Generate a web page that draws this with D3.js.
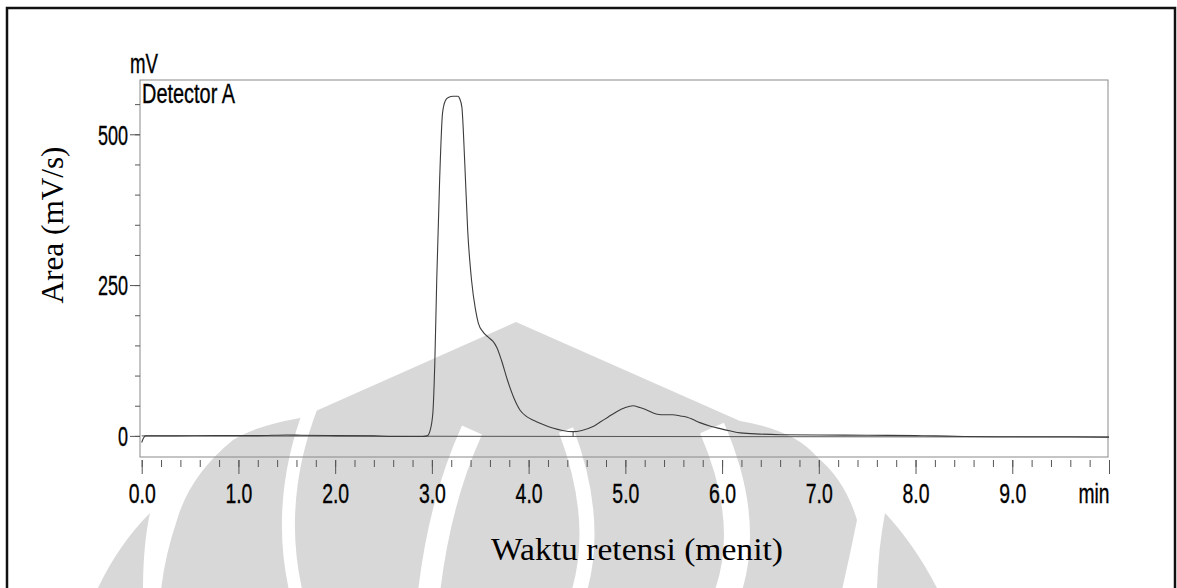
<!DOCTYPE html>
<html>
<head>
<meta charset="utf-8">
<script src="https://cdn.jsdelivr.net/npm/d3@7"></script>
<style>
  body { margin: 0; background: #fff; }
  svg { display: block; }
  .narrow { font-family: "Liberation Sans", Arial, sans-serif; stroke: #000; stroke-width: 0.35px; }
  .serif { font-family: "Liberation Serif", "Times New Roman", serif; }
</style>
</head>
<body>
<div id="container"></div>
<script>
// retention time (min) and detector signal (mV)
const times = [0, 0.02, 0.04, 0.3, 0.8, 1.2, 1.5, 1.65, 2.0, 2.4, 2.6, 2.9, 2.95, 2.98, 3.01, 3.03,
  3.05, 3.08, 3.11, 3.14, 3.17, 3.22, 3.27, 3.29, 3.31, 3.34, 3.37, 3.41, 3.45, 3.48, 3.53,
  3.58, 3.63, 3.67, 3.72, 3.78, 3.85, 3.91, 3.98, 4.05, 4.15, 4.25, 4.35, 4.46, 4.55, 4.66,
  4.74, 4.82, 4.91, 5.0, 5.08, 5.15, 5.22, 5.33, 5.41, 5.49, 5.57, 5.64, 5.7, 5.77, 5.88,
  5.98, 6.09, 6.19, 6.39, 6.6, 7.0, 7.5, 8.0, 8.2, 8.5, 9.0, 9.5, 10.0];
const signal = [-11, -3, 0, 0, 0.5, 0.5, 1.5, 1, 0.5, 0, -1, -1, 0, 8, 38, 120,
  258, 424, 535, 556, 561, 563, 563, 558, 545, 452, 341, 258, 210, 187, 172,
  164, 157, 147, 125, 93, 62, 43, 32, 26, 19, 13, 9, 7, 9, 15,
  23, 31, 40, 47, 50, 47, 43, 36, 35, 35, 33, 31, 27, 22, 16,
  12, 8, 5, 3, 2, 1.5, 1, 0.5, 0, -1, -1.5, -1.5, -2];
// integration baseline (start, end) and peak separator
const baseTimes = [0, 10];
const baseValues = [0, -2];
const dropTimes = [4.46];

const xMajor = [0, 1, 2, 3, 4, 5, 6, 7, 8, 9, 10];
const xLabels = ["0.0", "1.0", "2.0", "3.0", "4.0", "5.0", "6.0", "7.0", "8.0", "9.0", "min"];
const yMajor = [0, 250, 500];
const yLabels = ["0", "250", "500"];

const width = 1177, height = 588;
const plotL = 140, plotR = 1109, plotT = 80, plotB = 457;

const svg = d3.select("#container").append("svg")
  .attr("width", width).attr("height", height);

svg.append("rect").attr("width", width).attr("height", height).attr("fill", "#fff");

// faded logo watermark behind the chart
const wm = svg.append("g");
const wmFill = "#d8d8d8";
wm.append("path").attr("fill", wmFill)
  .attr("d", "M516,322 L300,418 Q255,426 233,440 Q190,475 177,520 Q165,555 161,590 L842,590 Q850,555 857,520 Q845,480 817,457 Q795,430 740,421 Z");
wm.append("path").attr("fill", wmFill)
  .attr("d", "M150,513 Q118,545 97,590 L143,590 Q143,545 150,513 Z");
wm.append("path").attr("fill", wmFill)
  .attr("d", "M885,513 Q878,550 877,590 L938,590 Q915,545 885,513 Z");
[["M312,405 Q275,500 296,592", 13],
 ["M472,430 Q440,500 429,592", 22],
 ["M566,430 Q600,520 579,592", 15],
 ["M712,428 Q752,520 728,592", 26]].forEach(([d, w]) => {
  wm.append("path").attr("d", d).attr("fill", "none")
    .attr("stroke", "#fff").attr("stroke-width", w);
});

// outer page frame
svg.append("rect")
  .attr("x", 7).attr("y", 8).attr("width", 1168).attr("height", 600)
  .attr("fill", "none").attr("stroke", "#111").attr("stroke-width", 2.5);

const x = d3.scaleLinear().domain([0, 10]).range([141.7, 1109]);
const y = d3.scaleLinear().domain([-35, 590]).range([plotB, plotT]);

// plot frame
svg.append("rect")
  .attr("x", plotL).attr("y", plotT).attr("width", plotR - plotL - 1).attr("height", plotB - plotT)
  .attr("fill", "none").attr("stroke", "#8a8a8a").attr("stroke-width", 1);

// x axis: minor ticks every 0.2, major every 1.0
const xMinorAxis = d3.axisBottom(x)
  .tickValues(d3.range(0, 51).map(i => i / 5))
  .tickSize(7).tickFormat("");
const xMajorAxis = d3.axisBottom(x)
  .tickValues(xMajor).tickSize(14)
  .tickFormat((d, i) => xLabels[i]);

svg.append("g").attr("transform", `translate(0,460)`).call(xMinorAxis)
  .call(g => g.select(".domain").remove());
const gx = svg.append("g").attr("transform", `translate(0,460)`).call(xMajorAxis)
  .call(g => g.select(".domain").remove());
gx.selectAll("text")
  .attr("class", "narrow")
  .attr("y", 43).attr("dy", 0)
  .attr("font-size", 27).attr("fill", "#000")
  .attr("textLength", (d, i) => i === xLabels.length - 1 ? 31 : 27)
  .attr("lengthAdjust", "spacingAndGlyphs")
  .attr("text-anchor", (d, i) => i === xLabels.length - 1 ? "end" : "middle");

// y axis: minor ticks every 50
const yMinorAxis = d3.axisLeft(y).tickValues(d3.range(0, 551, 50)).tickSize(5).tickFormat("");
const yMajorAxis = d3.axisLeft(y).tickValues(yMajor).tickSize(10)
  .tickFormat((d, i) => yLabels[i]).tickPadding(2);

svg.append("g").attr("transform", `translate(${plotL},0)`).call(yMinorAxis)
  .call(g => g.select(".domain").remove());
const gy = svg.append("g").attr("transform", `translate(${plotL},0)`).call(yMajorAxis)
  .call(g => g.select(".domain").remove());
gy.selectAll("text")
  .attr("class", "narrow")
  .attr("font-size", 27).attr("fill", "#000").attr("dy", "0.36em")
  .attr("textLength", (d, i) => yLabels[i].length * 10)
  .attr("lengthAdjust", "spacingAndGlyphs");
svg.selectAll(".tick line").attr("stroke", "#555");

// baseline and peak separator
const base = baseTimes.map((t, i) => [t, baseValues[i]]);
svg.append("path")
  .datum(base)
  .attr("fill", "none").attr("stroke", "#555").attr("stroke-width", 1)
  .attr("d", d3.line().x(d => x(d[0])).y(d => y(d[1])));

const signalAt = d3.scaleLinear().domain(times).range(signal);
const baseAt = d3.scaleLinear().domain(baseTimes).range(baseValues);
svg.selectAll(".drop")
  .data(dropTimes).enter().append("line")
  .attr("class", "drop")
  .attr("x1", d => x(d)).attr("x2", d => x(d))
  .attr("y1", d => y(baseAt(d))).attr("y2", d => y(signalAt(d)))
  .attr("stroke", "#555").attr("stroke-width", 1);

// chromatogram trace
const trace = times.map((t, i) => [t, signal[i]]);
svg.append("path")
  .datum(trace)
  .attr("fill", "none").attr("stroke", "#3c3c3c").attr("stroke-width", 1.1)
  .attr("d", d3.line().x(d => x(d[0])).y(d => y(d[1])).curve(d3.curveMonotoneX));

// labels
svg.append("text").attr("class", "narrow")
  .attr("x", 130).attr("y", 73).attr("font-size", 27)
  .attr("textLength", 28).attr("lengthAdjust", "spacingAndGlyphs").text("mV");
svg.append("text").attr("class", "narrow")
  .attr("x", 142).attr("y", 103).attr("font-size", 27)
  .attr("textLength", 93).attr("lengthAdjust", "spacingAndGlyphs").text("Detector A");

svg.append("text").attr("class", "serif")
  .attr("transform", "translate(63,225) rotate(-90)")
  .attr("text-anchor", "middle").attr("font-size", 32)
  .attr("textLength", 157).attr("lengthAdjust", "spacingAndGlyphs")
  .text("Area (mV/s)");

svg.append("text").attr("class", "serif")
  .attr("x", 637).attr("y", 560)
  .attr("text-anchor", "middle").attr("font-size", 32)
  .attr("textLength", 292).attr("lengthAdjust", "spacingAndGlyphs")
  .text("Waktu retensi (menit)");
</script>
</body>
</html>
